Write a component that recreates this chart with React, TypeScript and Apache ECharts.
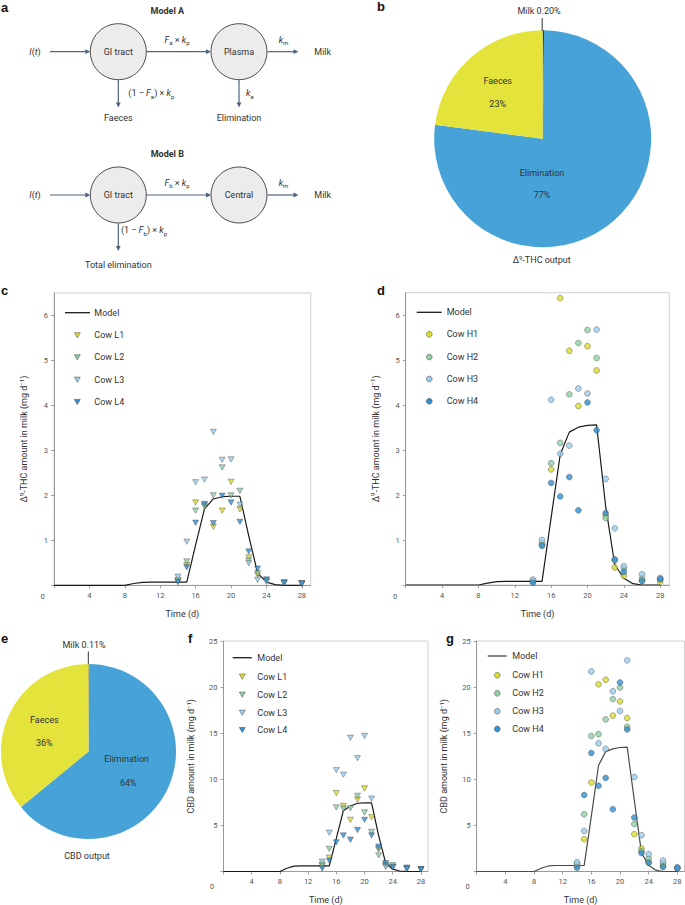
import React, { useEffect, useRef } from "react";
import * as echarts from "echarts";

// ---------- DATA ----------
const sampleDays = [14, 15, 16, 17, 18, 19, 20, 21, 22, 23, 24, 26, 28];
const modelDays = [0, 1, 2, 3, 4, 5, 6, 7, 8, 9, 10, 11, 12, 13, 14, 15, 16, 17, 18, 19, 20, 21, 22, 23, 24, 25, 26, 27, 28];

const lowCows = ["Cow L1", "Cow L2", "Cow L3", "Cow L4"];
const highCows = ["Cow H1", "Cow H2", "Cow H3", "Cow H4"];
const cowColors = ["#dcdc2c", "#90cfa4", "#9acdee", "#2f8fd3"];

// Panel c: Δ9-THC, low-dose cows
const thcL1 = [0.10, 0.45, 1.84, 1.78, 1.30, 1.66, 2.30, 1.69, 0.62, 0.23, 0.10, 0.06, 0.04];
const thcL2 = [0.12, 0.53, 1.66, 1.75, 2.00, 2.62, 2.00, 2.10, 0.55, 0.27, 0.10, 0.06, 0.04];
const thcL3 = [0.19, 0.97, 2.29, 2.35, 3.41, 2.79, 2.80, 1.79, 0.49, 0.12, 0.08, 0.05, 0.04];
const thcL4 = [0.07, 0.40, 1.39, 1.81, 1.38, 1.99, 1.84, 1.41, 0.75, 0.37, 0.13, 0.06, 0.04];
const thcModelLow = [0, 0, 0, 0, 0, 0, 0, 0, 0, 0.04, 0.065, 0.07, 0.07, 0.07, 0.07, 0.07, 0.9, 1.7, 1.92, 1.97, 1.98, 1.98, 1.1, 0.27, 0.07, 0.015, 0, 0, 0];

// Panel d: Δ9-THC, high-dose cows
const thcH1 = [0.10, 0.90, 2.57, 6.38, 5.21, 3.98, 5.31, 4.77, 1.55, 0.39, 0.20, 0.10, 0.07];
const thcH2 = [0.08, 0.92, 2.71, 3.16, 4.24, 5.38, 5.67, 5.05, 1.49, 0.55, 0.36, 0.15, 0.13];
const thcH3 = [0.12, 1.00, 4.12, 2.92, 3.10, 4.37, 4.26, 5.68, 2.36, 1.26, 0.42, 0.24, 0.16];
const thcH4 = [0.05, 0.87, 2.27, 1.97, 2.40, 1.66, 4.06, 3.44, 1.60, 0.57, 0.29, 0.09, 0.13];
const thcModelHigh = [0, 0, 0, 0, 0, 0, 0, 0, 0, 0.04, 0.075, 0.08, 0.08, 0.08, 0.08, 0.08, 1.5, 2.9, 3.4, 3.51, 3.55, 3.56, 1.75, 0.45, 0.15, 0.03, 0, 0, 0];

// Panel f: CBD, low-dose cows
const cbdL1 = [0.6, 1.5, 8.5, 7.1, 5.6, 7.8, 9.0, 5.9, 2.4, 0.7, 0.5, 0.42, 0.25];
const cbdL2 = [0.75, 2.45, 6.95, 6.8, 6.85, 8.2, 6.4, 4.3, 1.75, 0.6, 0.67, 0.35, 0.25];
const cbdL3 = [1.06, 4.2, 11.0, 10.5, 14.5, 12.3, 14.7, 7.9, 2.5, 0.5, 0.45, 0.3, 0.25];
const cbdL4 = [0.32, 1.17, 3.16, 3.9, 3.45, 4.5, 5.6, 3.9, 2.7, 0.9, 0.5, 0.3, 0.22];
const cbdModelLow = [0, 0, 0, 0, 0, 0, 0, 0, 0, 0.35, 0.58, 0.6, 0.6, 0.6, 0.6, 0.6, 3.6, 6.6, 7.1, 7.4, 7.45, 7.45, 3.9, 0.9, 0.25, 0.05, 0, 0, 0];

// Panel g: CBD, high-dose cows
const cbdH1 = [0.6, 3.5, 9.65, 20.3, 20.8, 16.9, 18.45, 16.65, 4.05, 2.5, 1.0, 0.6, 0.35];
const cbdH2 = [0.8, 6.2, 14.7, 14.9, 16.5, 18.7, 19.95, 15.7, 5.15, 2.2, 1.4, 0.9, 0.4];
const cbdH3 = [1.0, 4.4, 21.7, 13.9, 13.3, 19.55, 17.4, 22.9, 10.25, 3.94, 1.9, 1.2, 0.46];
const cbdH4 = [0.4, 8.3, 12.85, 9.3, 10.15, 6.75, 20.5, 15.4, 5.86, 2.0, 0.96, 0.5, 0.35];
const cbdModelHigh = [0, 0, 0, 0, 0, 0, 0, 0, 0, 0.35, 0.6, 0.65, 0.65, 0.65, 0.65, 0.67, 6.0, 11.5, 13.0, 13.3, 13.45, 13.5, 7.7, 2.0, 0.67, 0.14, 0, 0, 0];

// Pies
const pieNames = ["Milk", "Elimination", "Faeces"];
const thcOutput = [0.2, 77, 23];
const cbdOutput = [0.11, 64, 36];
const pieColors = ["#333333", "#47a3d7", "#e3e33b"];

// Ticks
const timeTicks = [0, 4, 8, 12, 16, 20, 24, 28];
const timeLabels = [4, 8, 12, 16, 20, 24, 28];
const thcTicks = [0, 1, 2, 3, 4, 5, 6];
const thcLabels = [1, 2, 3, 4, 5, 6];
const cbdTicks = [0, 5, 10, 15, 20, 25];
const cbdLabels = [5, 10, 15, 20, 25];

// ---------- STYLE ----------
const FONT = 'Roboto, "Noto Sans", sans-serif';
const TXT = "#333";
const ARROW = "#4d6480";

function txt(x: number, y: number, text: string, extra: any = {}) {
  return {
    type: "text",
    x,
    y,
    z: 10,
    style: {
      text,
      fontSize: 9,
      fontFamily: FONT,
      fill: TXT,
      align: "center",
      verticalAlign: "middle",
      ...extra,
    },
  };
}

const richBase = {
  n: { fontSize: 9, fontFamily: FONT, fill: TXT, lineHeight: 12 },
  i: { fontSize: 9, fontFamily: FONT, fill: TXT, fontStyle: "italic", lineHeight: 12 },
  sub: { fontSize: 6, fontFamily: FONT, fill: TXT, lineHeight: 6, verticalAlign: "bottom" },
  isub: { fontSize: 6, fontFamily: FONT, fill: TXT, fontStyle: "italic", lineHeight: 6, verticalAlign: "bottom" },
  sup: { fontSize: 6, fontFamily: FONT, fill: TXT, lineHeight: 6, verticalAlign: "top" },
};

function rtxt(x: number, y: number, text: string, align = "center") {
  return {
    type: "text",
    x,
    y,
    z: 10,
    style: { text, rich: richBase, align, verticalAlign: "middle", fontSize: 9, fontFamily: FONT, fill: TXT },
  };
}

function arrowH(x0: number, x1: number, y: number) {
  return [
    { type: "line", shape: { x1: x0, y1: y, x2: x1 - 4, y2: y }, style: { stroke: ARROW, lineWidth: 1.2 } },
    { type: "polygon", shape: { points: [[x1, y], [x1 - 5, y - 2.4], [x1 - 5, y + 2.4]] }, style: { fill: ARROW } },
  ];
}
function arrowV(x: number, y0: number, y1: number) {
  return [
    { type: "line", shape: { x1: x, y1: y0, x2: x, y2: y1 - 4 }, style: { stroke: ARROW, lineWidth: 1.2 } },
    { type: "polygon", shape: { points: [[x, y1], [x - 2.4, y1 - 5], [x + 2.4, y1 - 5]] }, style: { fill: ARROW } },
  ];
}
function node(cx: number, cy: number, label: string) {
  return [
    { type: "circle", shape: { cx, cy, r: 28 }, style: { fill: "#ececec", stroke: "#3a3a3a", lineWidth: 0.9 } },
    txt(cx, cy, label),
  ];
}

function diagram() {
  const A = 51.7;
  const B = 195;
  return [
    txt(167.3, 11, "Model A", { fontWeight: "bold" }),
    ...node(118.3, A, "GI tract"),
    ...node(239, A, "Plasma"),
    rtxt(35, A, "{i|I}{n|(}{i|t}{n|)}"),
    ...arrowH(50, 90.3, A),
    ...arrowH(146.3, 211, A),
    rtxt(177, 39.5, "{i|F}{sub|a}{n| × }{i|k}{sub|p}"),
    ...arrowH(267.3, 298.5, A),
    rtxt(283.5, 39.5, "{i|k}{sub|m}"),
    txt(322.7, A, "Milk"),
    ...arrowV(118.3, A + 28.2, 107.5),
    rtxt(128.3, 93, "{n|(1 − }{i|F}{sub|a}{n|) × }{i|k}{sub|p}", "left"),
    txt(118.3, 117.5, "Faeces"),
    ...arrowV(239, A + 28.2, 107.5),
    rtxt(246, 93, "{i|k}{sub|e}", "left"),
    txt(239, 117.5, "Elimination"),

    txt(167.3, 154.3, "Model B", { fontWeight: "bold" }),
    ...node(118.3, B, "GI tract"),
    ...node(239, B, "Central"),
    rtxt(35, B, "{i|I}{n|(}{i|t}{n|)}"),
    ...arrowH(50, 90.3, B),
    ...arrowH(146.3, 211, B),
    rtxt(177, 182.7, "{i|F}{sub|b}{n| × }{i|k}{sub|p}"),
    ...arrowH(267.3, 298.5, B),
    rtxt(283.5, 182.7, "{i|k}{sub|m}"),
    txt(322.7, B, "Milk"),
    ...arrowV(118.3, B + 28.2, 251),
    rtxt(121, 230, "{n|(1 − }{i|F}{sub|b}{n|) × }{i|k}{sub|p}", "left"),
    txt(118.3, 264.5, "Total elimination"),
  ];
}

function legendGraphic(
  lx0: number, lx1: number, ly: number, mx: number, tx: number, rows: number[],
  names: string[], symbol: string, lineColor: string
) {
  const out: any[] = [
    { type: "line", z: 10, shape: { x1: lx0, y1: ly, x2: lx1, y2: ly }, style: { stroke: lineColor, lineWidth: 1.3 } },
    txt(tx, ly, "Model", { align: "left" }),
  ];
  rows.forEach((y, i) => {
    if (symbol === "triangle") {
      out.push({
        type: "polygon", z: 10,
        shape: { points: [[mx - 3, y - 2.6], [mx + 3, y - 2.6], [mx, y + 2.6]] },
        style: { fill: cowColors[i], stroke: "#444", lineWidth: 0.5 },
      });
    } else {
      out.push({
        type: "circle", z: 10,
        shape: { cx: mx, cy: y, r: 2.9 },
        style: { fill: cowColors[i], stroke: "#444", lineWidth: 0.5 },
      });
    }
    out.push(txt(tx, y, names[i], { align: "left" }));
  });
  return out;
}

function panelLetter(x: number, y: number, l: string) {
  return {
    type: "text", x, y, z: 10,
    style: { text: l, fontSize: 13, fontWeight: "bold", fontFamily: '"Liberation Sans", Arial, sans-serif', fill: "#111", align: "left", verticalAlign: "bottom" },
  };
}

const grids = [
  { left: 54, top: 293, width: 256.7, height: 292.3 },
  { left: 405.7, top: 292.7, width: 263.6, height: 292.3 },
  { left: 223.5, top: 641, width: 204.5, height: 234.7 },
  { left: 476.7, top: 641, width: 207.8, height: 234.7 },
];

const axisLineStyle = { color: "#8a8a8a", width: 0.8 };

function xAxisFor(gi: number, nameGap: number) {
  return {
    type: "value",
    gridIndex: gi,
    min: 0,
    max: 29,
    axisLine: { show: true, lineStyle: axisLineStyle },
    axisTick: { show: true, length: 3, customValues: timeTicks, lineStyle: axisLineStyle },
    axisLabel: { customValues: timeLabels, fontSize: 7.5, color: "#555", margin: 6, fontFamily: FONT },
    splitLine: { show: false },
    name: "Time (d)",
    nameLocation: "middle",
    nameGap,
    nameTextStyle: { fontSize: 9, color: TXT, fontFamily: FONT },
  };
}

function yAxisFor(gi: number, max: number, ticks: number[], labels: number[], name: string, nameGap: number) {
  return {
    type: "value",
    gridIndex: gi,
    min: 0,
    max,
    axisLine: { show: true, lineStyle: axisLineStyle },
    axisTick: { show: true, length: 3, customValues: ticks, lineStyle: axisLineStyle },
    axisLabel: { customValues: labels, fontSize: 7.5, color: "#555", margin: 6, fontFamily: FONT },
    splitLine: { show: false },
    name,
    nameLocation: "middle",
    nameGap,
    nameTextStyle: {
      fontFamily: FONT,
      rich: {
        a: { fontSize: 9, color: TXT, fontFamily: FONT, lineHeight: 12 },
        s: { fontSize: 6, color: TXT, fontFamily: FONT, lineHeight: 6, verticalAlign: "top" },
      },
    },
  };
}

function modelSeries(gi: number, vals: number[], color: string) {
  return {
    type: "line",
    name: "Model",
    xAxisIndex: gi,
    yAxisIndex: gi,
    data: modelDays.map((d, i) => [d, vals[i]]),
    symbol: "none",
    lineStyle: { color, width: 1.2 },
    z: 2,
  };
}

function cowSeries(gi: number, name: string, vals: number[], colorIdx: number, symbol: string) {
  return {
    type: "scatter",
    name,
    xAxisIndex: gi,
    yAxisIndex: gi,
    data: sampleDays.map((d, i) => [d, vals[i]]),
    symbol,
    symbolRotate: symbol === "triangle" ? 180 : 0,
    symbolSize: symbol === "triangle" ? [6, 5.4] : 5.8,
    itemStyle: { color: cowColors[colorIdx], borderColor: "#444", borderWidth: 0.5 },
    z: 3,
  };
}

function pieSeries(center: number[], radius: number, values: number[]) {
  return {
    type: "pie",
    center,
    radius,
    startAngle: 90,
    clockwise: true,
    label: { show: false },
    labelLine: { show: false },
    emphasis: { disabled: true },
    data: pieNames.map((n, i) => ({ name: n, value: values[i], itemStyle: { color: pieColors[i] } })),
  };
}

const thcYName = "{a|Δ}{s|9}{a|-THC amount in milk (mg d}{s|−1}{a|)}";
const cbdYName = "{a|CBD amount in milk (mg d}{s|−1}{a|)}";

function buildOption() {
  const graphic: any[] = [
    ...diagram(),
    panelLetter(1, 14, "a"),
    panelLetter(377, 13, "b"),
    panelLetter(1, 296.5, "c"),
    panelLetter(377, 296.5, "d"),
    panelLetter(1, 644.5, "e"),
    panelLetter(188, 644.5, "f"),
    panelLetter(446, 645, "g"),
    // pie b labels
    { type: "line", z: 10, shape: { x1: 542.2, y1: 18, x2: 542.2, y2: 31 }, style: { stroke: "#333", lineWidth: 1 } },
    txt(539, 10.5, `${pieNames[0]} ${thcOutput[0].toFixed(2)}%`),
    txt(497.7, 80.5, pieNames[2]),
    txt(497.7, 103.7, `${thcOutput[2]}%`),
    txt(542, 172.7, pieNames[1]),
    txt(542, 195.3, `${thcOutput[1]}%`),
    rtxt(541.7, 260, "{n|Δ}{sup|9}{n|-THC output}"),
    // pie e labels
    { type: "line", z: 10, shape: { x1: 88.3, y1: 651.5, x2: 88.3, y2: 664 }, style: { stroke: "#333", lineWidth: 1 } },
    txt(84, 645, `${pieNames[0]} ${cbdOutput[0].toFixed(2)}%`),
    txt(44.3, 720, pieNames[2]),
    txt(44.3, 743.3, `${cbdOutput[2]}%`),
    txt(126.7, 759.3, pieNames[1]),
    txt(128.3, 782.7, `${cbdOutput[1]}%`),
    txt(87, 855.7, "CBD output"),
    // corner zeros
    txt(42.7, 596.7, "0", { fontSize: 7.5, fill: "#555" }),
    txt(395, 596.7, "0", { fontSize: 7.5, fill: "#555" }),
    txt(212, 886.7, "0", { fontSize: 7.5, fill: "#555" }),
    txt(467.7, 886.7, "0", { fontSize: 7.5, fill: "#555" }),
    // legends
    ...legendGraphic(65, 90, 312.7, 77.3, 94.3, [335.3, 357.3, 379.7, 402], lowCows, "triangle", "#1a1a1a"),
    ...legendGraphic(416.7, 441.7, 312.3, 429.3, 446.7, [334.3, 357, 379, 401.3], highCows, "circle", "#1a1a1a"),
    ...legendGraphic(232.7, 251.7, 657.7, 242.3, 257.3, [676.7, 694.7, 712.7, 730], lowCows, "triangle", "#1a1a1a"),
    ...legendGraphic(487.7, 506.7, 656, 497.3, 512.3, [675.3, 693.3, 711.3, 729], highCows, "circle", "#4a4a4a"),
  ];

  return {
    animation: false,
    backgroundColor: "#ffffff",
    textStyle: { fontFamily: FONT },
    grid: grids.map((g) => ({ ...g, show: true, borderColor: "#c4c4c4", borderWidth: 0.8, backgroundColor: "transparent" })),
    xAxis: [xAxisFor(0, 24), xAxisFor(1, 24), xAxisFor(2, 23.5), xAxisFor(3, 23.5)],
    yAxis: [
      yAxisFor(0, 6.5, thcTicks, thcLabels, thcYName, 24),
      yAxisFor(1, 6.5, thcTicks, thcLabels, thcYName, 24),
      yAxisFor(2, 25, cbdTicks, cbdLabels, cbdYName, 26.5),
      yAxisFor(3, 25, cbdTicks, cbdLabels, cbdYName, 26.5),
    ],
    series: [
      pieSeries([542.7, 138.7], 108.5, thcOutput),
      pieSeries([88.5, 751.5], 87.5, cbdOutput),
      modelSeries(0, thcModelLow, "#1a1a1a"),
      cowSeries(0, lowCows[0], thcL1, 0, "triangle"),
      cowSeries(0, lowCows[1], thcL2, 1, "triangle"),
      cowSeries(0, lowCows[2], thcL3, 2, "triangle"),
      cowSeries(0, lowCows[3], thcL4, 3, "triangle"),
      modelSeries(1, thcModelHigh, "#1a1a1a"),
      cowSeries(1, highCows[0], thcH1, 0, "circle"),
      cowSeries(1, highCows[1], thcH2, 1, "circle"),
      cowSeries(1, highCows[2], thcH3, 2, "circle"),
      cowSeries(1, highCows[3], thcH4, 3, "circle"),
      modelSeries(2, cbdModelLow, "#1a1a1a"),
      cowSeries(2, lowCows[0], cbdL1, 0, "triangle"),
      cowSeries(2, lowCows[1], cbdL2, 1, "triangle"),
      cowSeries(2, lowCows[2], cbdL3, 2, "triangle"),
      cowSeries(2, lowCows[3], cbdL4, 3, "triangle"),
      modelSeries(3, cbdModelHigh, "#4a4a4a"),
      cowSeries(3, highCows[0], cbdH1, 0, "circle"),
      cowSeries(3, highCows[1], cbdH2, 1, "circle"),
      cowSeries(3, highCows[2], cbdH3, 2, "circle"),
      cowSeries(3, highCows[3], cbdH4, 3, "circle"),
    ],
    graphic,
  };
}

export default function App() {
  const ref = useRef<HTMLDivElement>(null);
  useEffect(() => {
    if (!ref.current) return;
    const chart = echarts.init(ref.current, undefined, { renderer: "svg" });
    chart.setOption(buildOption() as any);
    return () => chart.dispose();
  }, []);
  return (
    <div
      ref={ref}
      style={{ position: "absolute", left: 0, top: 0, width: 685, height: 905, background: "#fff" }}
    />
  );
}
